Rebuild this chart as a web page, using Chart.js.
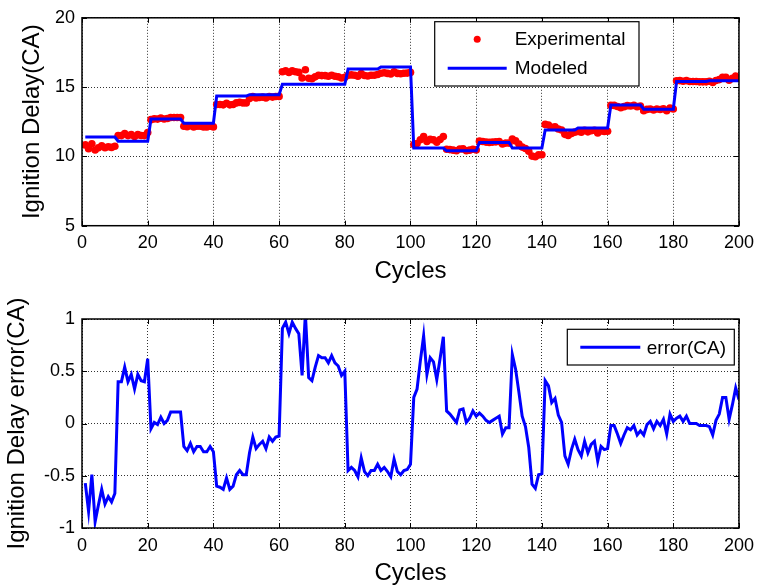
<!DOCTYPE html>
<html>
<head>
<meta charset="utf-8">
<script src="https://cdn.jsdelivr.net/npm/chart.js@4.4.0/dist/chart.umd.min.js"></script>
<style>
  html, body { margin: 0; padding: 0; background: #fff; }
  #wrap { position: relative; width: 761px; height: 588px; }
  canvas { position: absolute; left: 0; }
  #delayChart { top: 0; }
  #errorChart { top: 286px; }
</style>
</head>
<body>
<div id="wrap">
  <canvas id="delayChart" width="761" height="286"></canvas>
  <canvas id="errorChart" width="761" height="302"></canvas>
</div>
<script>
const cycleTicks = [0, 20, 40, 60, 80, 100, 120, 140, 160, 180, 200];
const delayTicks = [5, 10, 15, 20];
const errorTicks = [-1, -0.5, 0, 0.5, 1];

// ignition delay per cycle (cycles 1..200)
const experimental = [
  10.83, 10.56, 10.91, 10.46, 10.62, 10.77, 10.63, 10.70, 10.65, 10.73,
  11.50, 11.50, 11.64, 11.50, 11.57, 11.43, 11.57, 11.51, 11.50, 11.72,
  12.65, 12.71, 12.69, 12.76, 12.70, 12.73, 12.81, 12.81, 12.81, 12.81,
  12.18, 12.14, 12.21, 12.13, 12.18, 12.18, 12.13, 12.13, 12.18, 12.13,
  13.75, 13.74, 13.72, 13.83, 13.72, 13.75, 13.86, 13.90, 13.86, 13.86,
  14.17, 14.32, 14.21, 14.25, 14.28, 14.21, 14.32, 14.28, 14.32, 14.33,
  16.11, 16.17, 16.06, 16.17, 16.11, 16.06, 15.66, 16.25, 15.64, 15.61,
  15.74, 15.85, 15.83, 15.83, 15.78, 15.85, 15.78, 15.75, 15.66, 15.70,
  15.85, 15.88, 15.85, 15.79, 15.97, 15.84, 15.80, 15.85, 15.85, 15.91,
  16.00, 16.03, 15.99, 15.94, 16.11, 15.99, 15.96, 16.00, 16.01, 16.06,
  10.85, 10.93, 11.20, 11.44, 11.07, 11.23, 11.19, 11.02, 11.22, 11.43,
  10.52, 10.49, 10.45, 10.41, 10.53, 10.54, 10.41, 10.45, 10.52, 10.47,
  11.10, 11.07, 11.03, 11.01, 11.03, 11.05, 11.07, 10.90, 10.96, 10.96,
  11.26, 11.12, 10.90, 10.67, 10.57, 10.37, 10.02, 9.98, 10.11, 10.12,
  12.31, 12.26, 12.10, 12.14, 11.98, 11.91, 11.59, 11.51, 11.65, 11.75,
  11.80, 11.74, 11.88, 11.77, 11.85, 11.88, 11.69, 11.83, 11.80, 11.81,
  13.68, 13.68, 13.60, 13.51, 13.59, 13.66, 13.64, 13.68, 13.59, 13.63,
  13.29, 13.39, 13.42, 13.35, 13.42, 13.38, 13.44, 13.30, 13.49, 13.42,
  15.45, 15.47, 15.42, 15.47, 15.40, 15.40, 15.40, 15.38, 15.38, 15.38,
  15.42, 15.34, 15.48, 15.54, 15.70, 15.70, 15.49, 15.63, 15.79, 15.68
];

const modeled = [
  11.4, 11.4, 11.4, 11.4, 11.4, 11.4, 11.4, 11.4, 11.4, 11.4,
  11.1, 11.1, 11.1, 11.1, 11.1, 11.1, 11.1, 11.1, 11.1, 11.1,
  12.7, 12.7, 12.7, 12.7, 12.7, 12.7, 12.7, 12.7, 12.7, 12.7,
  12.4, 12.4, 12.4, 12.4, 12.4, 12.4, 12.4, 12.4, 12.4, 12.4,
  14.35, 14.35, 14.35, 14.35, 14.35, 14.35, 14.35, 14.35, 14.35, 14.35,
  14.45, 14.45, 14.45, 14.45, 14.45, 14.45, 14.45, 14.45, 14.45, 14.45,
  15.2, 15.2, 15.2, 15.2, 15.2, 15.2, 15.2, 15.2, 15.2, 15.2,
  15.2, 15.2, 15.2, 15.2, 15.2, 15.2, 15.2, 15.2, 15.2, 15.2,
  16.3, 16.3, 16.3, 16.3, 16.3, 16.3, 16.3, 16.3, 16.3, 16.3,
  16.45, 16.45, 16.45, 16.45, 16.45, 16.45, 16.45, 16.45, 16.45, 16.45,
  10.6, 10.6, 10.6, 10.6, 10.6, 10.6, 10.6, 10.6, 10.6, 10.6,
  10.4, 10.4, 10.4, 10.4, 10.4, 10.4, 10.4, 10.4, 10.4, 10.4,
  11.0, 11.0, 11.0, 11.0, 11.0, 11.0, 11.0, 11.0, 11.0, 11.0,
  10.6, 10.6, 10.6, 10.6, 10.6, 10.6, 10.6, 10.6, 10.6, 10.6,
  11.9, 11.9, 11.9, 11.9, 11.9, 11.9, 11.9, 11.9, 11.9, 11.9,
  12.05, 12.05, 12.05, 12.05, 12.05, 12.05, 12.05, 12.05, 12.05, 12.05,
  13.7, 13.7, 13.7, 13.7, 13.7, 13.7, 13.7, 13.7, 13.7, 13.7,
  13.4, 13.4, 13.4, 13.4, 13.4, 13.4, 13.4, 13.4, 13.4, 13.4,
  15.4, 15.4, 15.4, 15.4, 15.4, 15.4, 15.4, 15.4, 15.4, 15.4,
  15.45, 15.45, 15.45, 15.45, 15.45, 15.45, 15.45, 15.45, 15.45, 15.45
];

const errorCA = [
  -0.57, -0.84, -0.49, -0.94, -0.78, -0.63, -0.77, -0.70, -0.75, -0.67,
  0.40, 0.40, 0.54, 0.40, 0.47, 0.33, 0.47, 0.41, 0.40, 0.62,
  -0.05, 0.01, -0.01, 0.06, 0.00, 0.03, 0.11, 0.11, 0.11, 0.11,
  -0.22, -0.26, -0.19, -0.27, -0.22, -0.22, -0.27, -0.27, -0.22, -0.27,
  -0.60, -0.61, -0.63, -0.52, -0.63, -0.60, -0.49, -0.45, -0.49, -0.49,
  -0.28, -0.13, -0.24, -0.20, -0.17, -0.24, -0.13, -0.17, -0.13, -0.12,
  0.91, 0.97, 0.86, 0.97, 0.91, 0.86, 0.46, 1.05, 0.44, 0.41,
  0.54, 0.65, 0.63, 0.63, 0.58, 0.65, 0.58, 0.55, 0.46, 0.50,
  -0.45, -0.42, -0.45, -0.51, -0.33, -0.46, -0.50, -0.45, -0.45, -0.39,
  -0.45, -0.42, -0.46, -0.51, -0.34, -0.46, -0.49, -0.45, -0.44, -0.39,
  0.25, 0.33, 0.60, 0.84, 0.47, 0.63, 0.59, 0.42, 0.62, 0.83,
  0.12, 0.09, 0.05, 0.01, 0.13, 0.14, 0.01, 0.05, 0.12, 0.07,
  0.10, 0.07, 0.03, 0.01, 0.03, 0.05, 0.07, -0.10, -0.04, -0.04,
  0.66, 0.52, 0.30, 0.07, -0.03, -0.23, -0.58, -0.62, -0.49, -0.48,
  0.41, 0.36, 0.20, 0.24, 0.08, 0.01, -0.31, -0.39, -0.25, -0.15,
  -0.25, -0.31, -0.17, -0.28, -0.20, -0.17, -0.36, -0.22, -0.25, -0.24,
  -0.02, -0.02, -0.10, -0.19, -0.11, -0.04, -0.06, -0.02, -0.11, -0.07,
  -0.11, -0.01, 0.02, -0.05, 0.02, -0.02, 0.04, -0.10, 0.09, 0.02,
  0.05, 0.07, 0.02, 0.07, 0.00, 0.00, 0.00, -0.02, -0.02, -0.02,
  -0.03, -0.11, 0.03, 0.09, 0.25, 0.25, 0.04, 0.18, 0.34, 0.23
];

const cycles = experimental.map((v, i) => i + 1);

const FONT = "'Liberation Sans', Arial, sans-serif";

// MATLAB-like box with inward ticks on every side
const matlabFramePlugin = {
  id: 'matlabFrame',
  afterDatasetsDraw(chart) {
    const ctx = chart.ctx;
    const a = chart.chartArea;
    const xs = chart.scales.x;
    const ys = chart.scales.y;
    ctx.save();
    ctx.strokeStyle = '#000';
    ctx.lineWidth = 1;
    ctx.beginPath();
    xs.ticks.forEach(t => {
      const px = Math.round(xs.getPixelForValue(t.value)) + 0.5;
      ctx.moveTo(px, a.bottom); ctx.lineTo(px, a.bottom - 5);
      ctx.moveTo(px, a.top); ctx.lineTo(px, a.top + 5);
    });
    ys.ticks.forEach(t => {
      const py = Math.round(ys.getPixelForValue(t.value)) + 0.5;
      ctx.moveTo(a.left, py); ctx.lineTo(a.left + 5, py);
      ctx.moveTo(a.right, py); ctx.lineTo(a.right - 5, py);
    });
    ctx.stroke();
    ctx.lineWidth = 1.5;
    ctx.strokeRect(a.left, a.top, a.right - a.left, a.bottom - a.top);
    ctx.restore();
  }
};

// boxed legend placed inside the axes like the original figure
const boxLegendPlugin = {
  id: 'boxLegend',
  afterDraw(chart, args, opts) {
    const ctx = chart.ctx;
    const b = opts.box;
    ctx.save();
    ctx.fillStyle = '#fff';
    ctx.fillRect(b.x, b.y, b.w, b.h);
    ctx.strokeStyle = '#000';
    ctx.lineWidth = 1.2;
    ctx.strokeRect(b.x, b.y, b.w, b.h);
    ctx.font = opts.fontSize + 'px ' + FONT;
    ctx.textBaseline = 'middle';
    chart.data.datasets.slice().sort((p, q) => p.legendIndex - q.legendIndex).forEach((ds, i) => {
      const cy = b.y + opts.firstRow + i * opts.rowGap;
      if (ds.showLine === false) {
        ctx.fillStyle = ds.pointBackgroundColor;
        ctx.beginPath();
        ctx.arc(b.x + opts.sampleX + opts.sampleW / 2, cy, 3.5, 0, Math.PI * 2);
        ctx.fill();
      } else {
        ctx.strokeStyle = ds.borderColor;
        ctx.lineWidth = 3;
        ctx.beginPath();
        ctx.moveTo(b.x + opts.sampleX, cy);
        ctx.lineTo(b.x + opts.sampleX + opts.sampleW, cy);
        ctx.stroke();
      }
      ctx.fillStyle = '#000';
      ctx.fillText(ds.label, b.x + opts.textX, cy + 1);
    });
    ctx.restore();
  }
};

function axisOptions(ticksArr, min, max, titleText, titlePad, fitSize, isX) {
  return {
    type: 'linear',
    min: min,
    max: max,
    afterBuildTicks: function (scale) {
      scale.ticks = ticksArr.map(v => ({ value: v }));
    },
    afterFit: function (scale) {
      if (isX) scale.height = fitSize; else scale.width = fitSize;
    },
    ticks: {
      color: '#000',
      padding: 7,
      autoSkip: false,
      maxRotation: 0,
      callback: function (value) {
        return String(value);
      },
      font: { family: FONT, size: 18 }
    },
    grid: {
      color: '#333',
      lineWidth: 1,
      drawTicks: false
    },
    border: { display: false, dash: [1, 2] },
    title: {
      display: true,
      text: titleText,
      color: '#000',
      padding: titlePad,
      font: { family: FONT, size: 24 }
    }
  };
}

function renderDelayChart() {
  const ctx = document.getElementById('delayChart').getContext('2d');
  new Chart(ctx, {
    type: 'line',
    data: {
      labels: cycles,
      datasets: [{
        label: 'Experimental',
        legendIndex: 0,
        data: experimental,
        showLine: false,
        pointRadius: 3.8,
        pointBorderWidth: 0,
        pointBackgroundColor: '#ff0000',
        borderColor: '#ff0000',
        order: 2
      }, {
        label: 'Modeled',
        legendIndex: 1,
        data: modeled,
        borderColor: '#0000ff',
        borderWidth: 3,
        pointRadius: 0,
        tension: 0,
        order: 1
      }]
    },
    options: {
      responsive: false,
      animation: false,
      devicePixelRatio: 1,
      layout: { padding: { top: 15.7, right: 19, left: 0, bottom: 0 } },
      scales: {
        x: axisOptions(cycleTicks, 0, 200, 'Cycles', { top: 0, bottom: 0 }, 60.3, true),
        y: axisOptions(delayTicks, 5, 20, 'Ignition Delay(CA)', { top: 18, bottom: 0 }, 82, false)
      },
      plugins: {
        legend: { display: false },
        tooltip: { enabled: false },
        boxLegend: {
          box: { x: 434.7, y: 21.7, w: 204.3, h: 64.3 },
          fontSize: 19,
          firstRow: 17.5,
          rowGap: 29,
          sampleX: 13,
          sampleW: 59,
          textX: 80
        }
      }
    },
    plugins: [matlabFramePlugin, boxLegendPlugin]
  });
}

function renderErrorChart() {
  const ctx = document.getElementById('errorChart').getContext('2d');
  new Chart(ctx, {
    type: 'line',
    data: {
      labels: cycles,
      datasets: [{
        label: 'error(CA)',
        legendIndex: 0,
        data: errorCA,
        borderColor: '#0000ff',
        borderWidth: 3,
        pointRadius: 0,
        tension: 0
      }]
    },
    options: {
      responsive: false,
      animation: false,
      devicePixelRatio: 1,
      layout: { padding: { top: 33, right: 19, left: 0, bottom: 0 } },
      scales: {
        x: axisOptions(cycleTicks, 0, 200, 'Cycles', { top: 0, bottom: 0 }, 60, true),
        y: axisOptions(errorTicks, -1, 1, 'Ignition Delay error(CA)', { top: 3, bottom: 0 }, 82, false)
      },
      plugins: {
        legend: { display: false },
        tooltip: { enabled: false },
        boxLegend: {
          box: { x: 567.3, y: 43.3, w: 167, h: 35.7 },
          fontSize: 19,
          firstRow: 18,
          rowGap: 29,
          sampleX: 13,
          sampleW: 60,
          textX: 79.5
        }
      }
    },
    plugins: [matlabFramePlugin, boxLegendPlugin]
  });
}

document.addEventListener('DOMContentLoaded', function () {
  renderDelayChart();
  renderErrorChart();
});
</script>
</body>
</html>
